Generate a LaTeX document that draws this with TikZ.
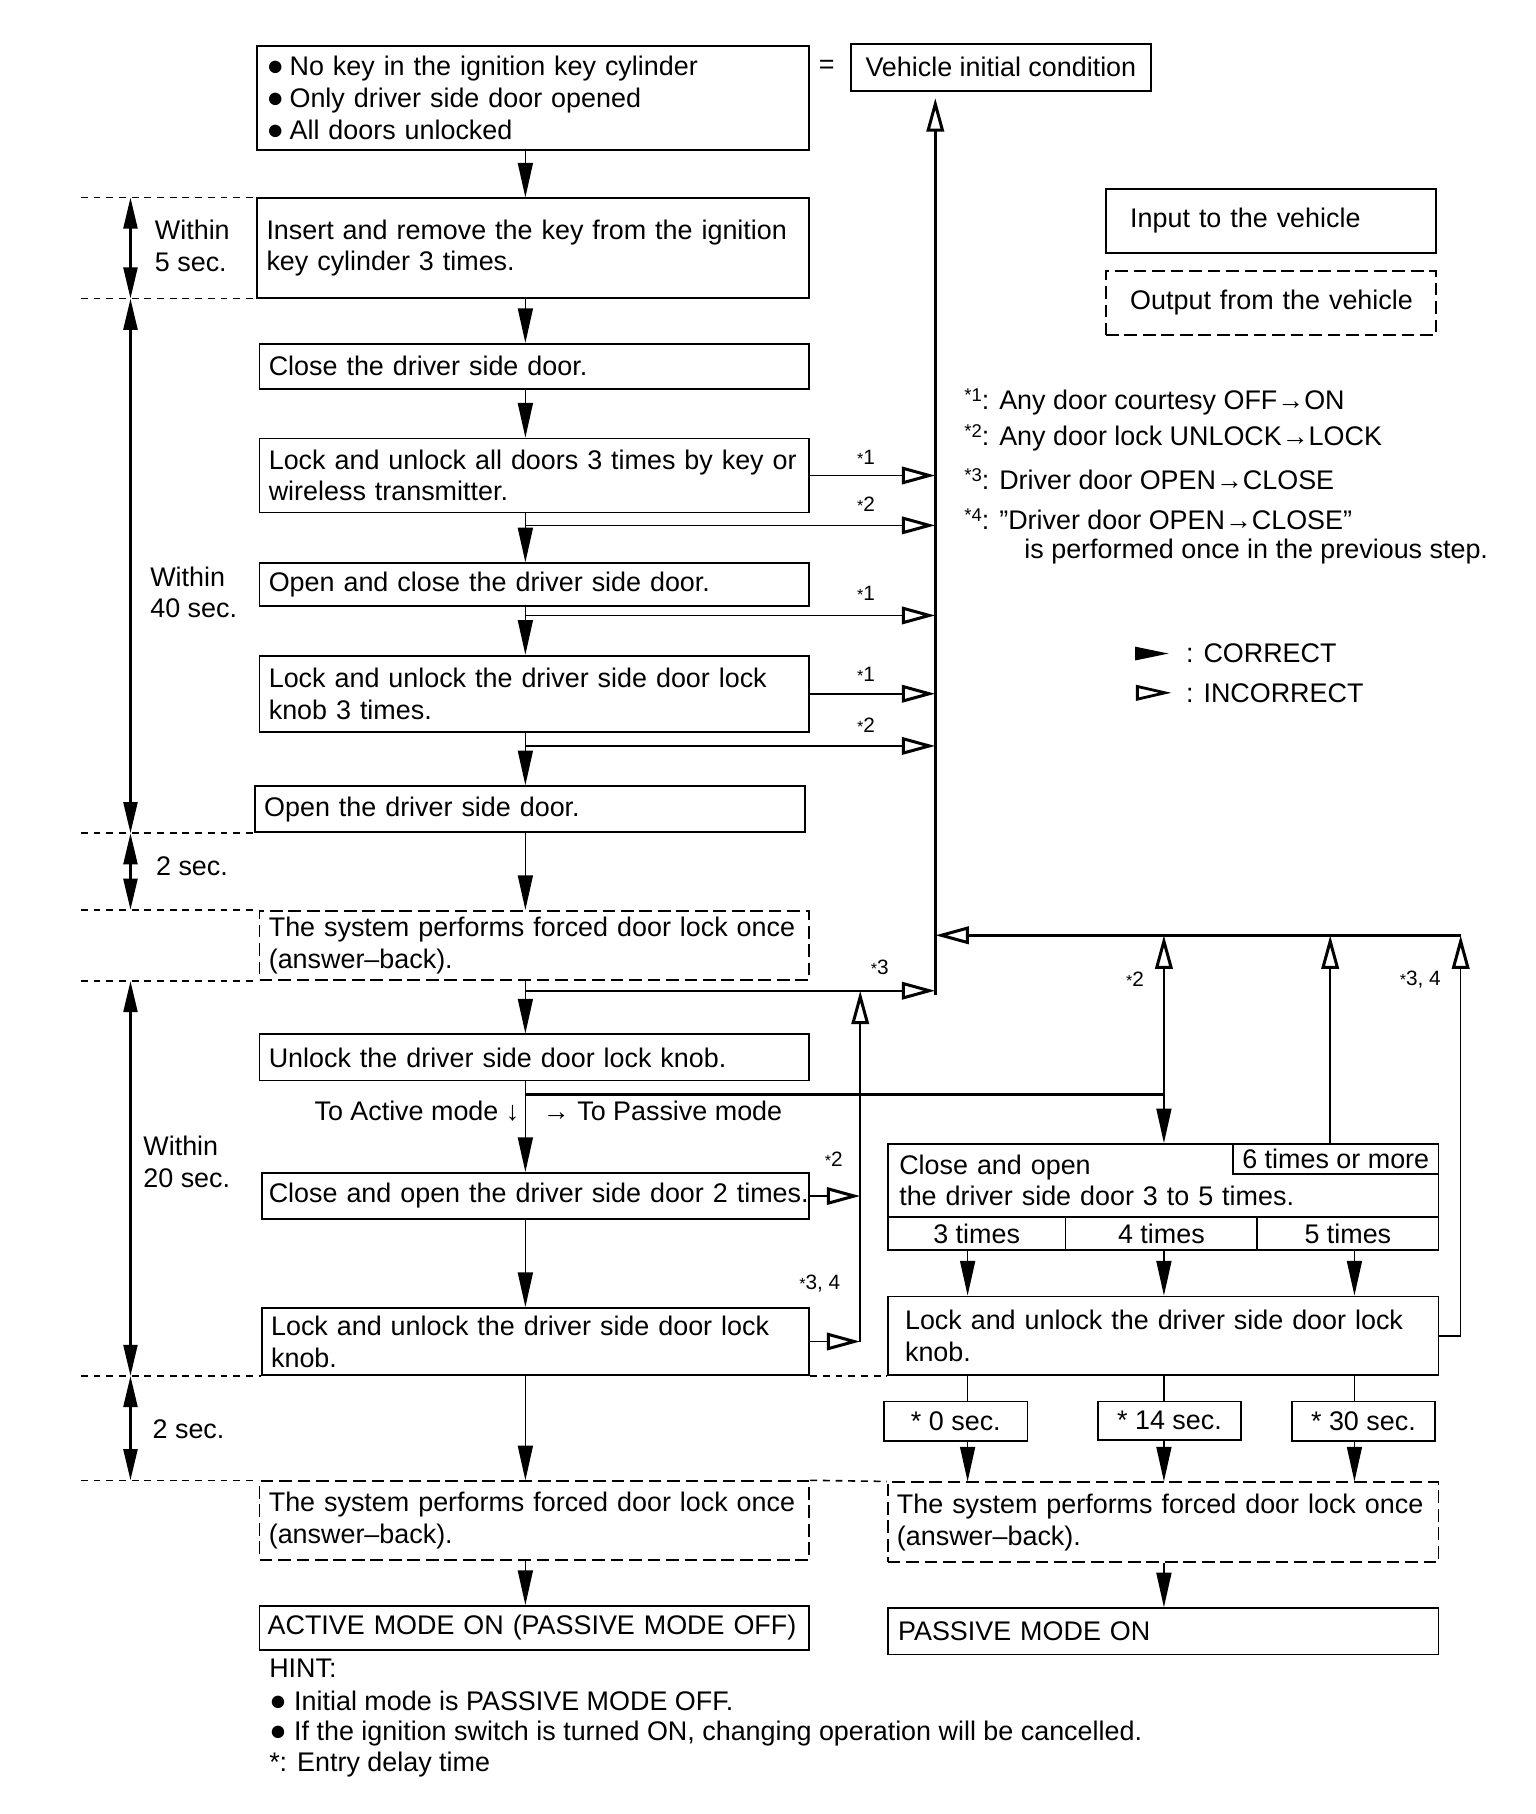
\documentclass[tikz,border=0pt]{standalone}
\usepackage{fontspec}
\setmainfont{Liberation Sans}
\usetikzlibrary{arrows.meta}
\newcommand\supst[1]{\raisebox{7pt}{\fontsize{16}{16}\selectfont *#1}}
\newcommand\lbl[1]{{\fontsize{14}{14}\selectfont *}#1}
\newcommand\bigbul{{\fontsize{25}{25}\selectfont ●}}
\newcommand\bul{\makebox[20pt][l]{\bigbul}}
\begin{document}
\begin{tikzpicture}[x=1pt,y=-1pt, font=\fontsize{23.3}{27.5}\selectfont,
  box/.style={draw, line width=1.6pt, anchor=north west, inner xsep=8pt, inner ysep=0pt, align=left},
  dbox/.style={box, dash pattern=on 11pt off 5pt},
  cbox/.style={box, align=center, inner xsep=0pt},
  arr/.style={line width=1.4pt, -{Triangle[length=30pt,width=13pt]}},
  oarr/.style={line width=1.4pt, -{Triangle[open,length=29pt,width=15pt,line width=2.6pt]}},
  darr/.style={line width=2.4pt, {Triangle[length=27pt,width=12pt]}-{Triangle[length=27pt,width=12pt]}},
  dots/.style={line width=1.4pt, dash pattern=on 6pt off 5pt},
  lab/.style={font=\fontsize{18}{18}\selectfont, inner sep=0pt},
  txt/.style={inner sep=0pt, anchor=west, align=left},
  plain/.style={line width=1.4pt},
]
\useasboundingbox (0,0) rectangle (1330,1571);

% reference coordinates
\coordinate (colA) at (455,0);
\coordinate (vl) at (810,0);
\coordinate (vm) at (745,0);
\coordinate (tl) at (113,0);
\coordinate (dl) at (70,0);
\coordinate (hl) at (0,810);
\coordinate (k1) at (838,0);
\coordinate (k2) at (1008,0);
\coordinate (k3) at (1173,0);
\coordinate (k4) at (1152,0);
\coordinate (kq) at (1265,0);
\coordinate (vtop) at (810,85);
\coordinate (vbot) at (810,862);
\coordinate (j1) at (455,455);
\coordinate (j2) at (455,533);
\coordinate (j3) at (455,646);
\coordinate (j4) at (455,858);
\coordinate (j5) at (455,948);

% left column boxes
\node[box, minimum width=478pt, minimum height=90pt, text width=462pt] (n1) at (222,39)
  {\mbox{\bul No key in the ignition key cylinder}\\\mbox{\bul Only driver side door opened}\\\mbox{\bul All doors unlocked}};
\node (eq) at (716,58) {=};
\node[cbox, minimum width=260pt, minimum height=41pt] (v0) at (736,37) {Vehicle initial condition};
\node[box, minimum width=478pt, minimum height=86pt, text width=462pt] (n2) at (222,171)
  {\mbox{Insert and remove the key from the ignition}\\\mbox{key cylinder 3 times.}};
\node[box, minimum width=476pt, minimum height=39pt, text width=460pt] (n3) at (224,297)
  {\mbox{Close the driver side door.}};
\node[box, minimum width=476pt, minimum height=64pt, text width=460pt] (n4) at (224,379)
  {\makebox[460pt][s]{Lock and unlock all doors 3 times by key or}\\\mbox{wireless transmitter.}};
\node[box, minimum width=476pt, minimum height=37pt, text width=460pt] (n5) at (224,487)
  {\mbox{Open and close the driver side door.}};
\node[box, minimum width=476pt, minimum height=66pt, text width=460pt] (n6) at (224,567)
  {\makebox[460pt][s]{Lock and unlock the driver side door lock}\\\mbox{knob 3 times.}};
\node[box, minimum width=476pt, minimum height=40pt, text width=460pt] (n7) at (220,680)
  {\mbox{Open the driver side door.}};
\node[dbox, minimum width=476pt, minimum height=60pt, text width=460pt] (n8) at (224,788)
  {\mbox{The system performs forced door lock once}\\\mbox{(answer–back).}};
\node[box, minimum width=476pt, minimum height=40pt, text width=460pt] (n9) at (224,895)
  {\mbox{Unlock the driver side door lock knob.}};
\node[box, inner xsep=6pt, minimum width=474pt, minimum height=40pt, text width=462pt] (n10) at (226,1015)
  {\mbox{Close and open the driver side door 2 times.}};
\node[box, minimum width=474pt, minimum height=58pt, text width=458pt] (n11) at (226,1132)
  {\makebox[462pt][s]{Lock and unlock the driver side door lock}\\\mbox{knob.}};
\node[dbox, minimum width=476pt, minimum height=68pt, text width=460pt] (n12) at (224,1282)
  {\mbox{The system performs forced door lock once}\\\mbox{(answer–back).}};
\node[box, inner xsep=7pt, minimum width=476pt, minimum height=38pt, text width=462pt] (n13) at (224,1390)
  {\mbox{ACTIVE MODE ON (PASSIVE MODE OFF)}};

% hint
\node[txt] (h1) at (233,1445) {HINT:};
\node[txt] (h2) at (233,1473) {\bigbul\ Initial mode is PASSIVE MODE OFF.};
\node[txt] (h3) at (233,1501) {\bigbul\ If the ignition switch is turned ON, changing operation will be cancelled.};
\node[txt] (h4) at (233,1528) {*: Entry delay time};

% right legend
\node[box, inner xsep=21pt, minimum width=286pt, minimum height=55pt, text width=244pt] (in1) at (957,163) {\mbox{Input to the vehicle}};
\node[dbox, inner xsep=21pt, minimum width=286pt, minimum height=55pt, text width=244pt] (out1) at (957,234) {\mbox{Output from the vehicle}};
\node[txt] (no1) at (835,348) {\supst{1}: Any door courtesy OFF→ON};
\node[txt] (no2) at (835,379) {\supst{2}: Any door lock UNLOCK→LOCK};
\node[txt] (no3) at (835,415) {\supst{3}: Driver door OPEN→CLOSE};
\node[txt] (no4) at (835,450) {\supst{4}: "Driver door OPEN→CLOSE”};
\node[txt] (no5) at (887,478) {is performed once in the previous step.};
\fill (983,560) -- (1012,566) -- (983,572) -- cycle;
\node[txt] (lg1) at (1027,566) {: CORRECT};
\draw[line width=2.4pt, line join=miter] (985,594.5) -- (1009,600) -- (985,605.5) -- cycle;
\node[txt] (lg2) at (1027,600) {: INCORRECT};

% right column boxes
\node[box, inner xsep=10pt, minimum width=477pt, minimum height=63pt, text width=457pt] (r1) at (768,990)
  {\mbox{Close and open}\\\mbox{the driver side door 3 to 5 times.}};
\node[cbox, minimum width=178pt, minimum height=26pt] (r1b) at (1067,990) {6 times or more};
\node[cbox, minimum width=154pt, minimum height=29pt] (c1) at (768,1053) {3 times};
\node[cbox, minimum width=166pt, minimum height=29pt] (c2) at (922,1053) {4 times};
\node[cbox, minimum width=157pt, minimum height=29pt] (c3) at (1088,1053) {5 times};
\node[box, inner xsep=15pt, minimum width=477pt, minimum height=68pt, text width=447pt] (r3) at (768,1122)
  {\makebox[445pt][s]{Lock and unlock the driver side door lock}\\\mbox{knob.}};
\node[cbox, minimum width=124pt, minimum height=34pt] (s1) at (765,1213) {* 0 sec.};
\node[cbox, minimum width=124pt, minimum height=33pt] (s2) at (950,1213) {* 14 sec.};
\node[cbox, minimum width=124pt, minimum height=34pt] (s3) at (1118,1213) {* 30 sec.};
\node[dbox, minimum width=477pt, minimum height=69pt, text width=461pt] (r4) at (768,1283)
  {\mbox{The system performs forced door lock once}\\\mbox{(answer–back).}};
\node[box, inner xsep=9pt, minimum width=477pt, minimum height=40pt, text width=459pt] (r5) at (768,1392)
  {\mbox{PASSIVE MODE ON}};

% side texts
\node[txt] (w1) at (134,213) {Within\\5 sec.};
\node[txt] (w2) at (130,513) {Within\\40 sec.};
\node[txt] (w3) at (135,750) {2 sec.};
\node[txt] (w4) at (124,1006) {Within\\20 sec.};
\node[txt] (w5) at (132,1238) {2 sec.};
\node[inner sep=0pt, anchor=east] (ta) at (450,962) {To Active mode ↓};
\node[txt] (tp) at (470,962) {→ To Passive mode};

% labels
\node[lab] (l1) at (750,396) {\lbl{1}};
\node[lab] (l2) at (750,437) {\lbl{2}};
\node[lab] (l3) at (750,514) {\lbl{1}};
\node[lab] (l4) at (750,584) {\lbl{1}};
\node[lab] (l5) at (750,628) {\lbl{2}};
\node[lab] (l6) at (762,838) {\lbl{3}};
\node[lab] (l7) at (722,1004) {\lbl{2}};
\node[lab] (l8) at (710,1112) {\lbl{3, 4}};
\node[lab] (l9) at (983,848) {\lbl{2}};
\node[lab] (l10) at (1230,848) {\lbl{3, 4}};

% dotted time lines
\draw[dots] (dl |- n2.north) -- (n2.north west);
\draw[dots] (dl |- n2.south) -- (n2.south west);
\draw[dots] (dl |- n7.south) -- (n7.south west);
\draw[dots] (dl |- n8.north) -- (n8.north west);
\draw[dots] (dl |- n8.south) -- (n8.south west);
\draw[dots] (dl |- n11.south) -- (n11.south west);
\draw[dots] (n11.south east) -- (r3.south west);
\draw[dots] (dl |- n12.north) -- (n12.north west);
\draw[dots] (n12.north east) -- (r4.north west);

% time arrows
\draw[darr] (tl |- n2.north) -- (tl |- n2.south);
\draw[darr] (tl |- n2.south) -- (tl |- n7.south);
\draw[darr] (tl |- n7.south) -- (tl |- n8.north);
\draw[darr] (tl |- n8.south) -- (tl |- n11.south);
\draw[darr] (tl |- n11.south) -- (tl |- n12.north);

% main flow
\draw[arr] (n1.south -| colA) -- (n2.north -| colA);
\draw[arr] (n2.south -| colA) -- (n3.north -| colA);
\draw[arr] (n3.south -| colA) -- (n4.north -| colA);
\draw[arr] (n4.south -| colA) -- (n5.north -| colA);
\draw[arr] (n5.south -| colA) -- (n6.north -| colA);
\draw[arr] (n6.south -| colA) -- (n7.north -| colA);
\draw[arr] (n7.south -| colA) -- (n8.north -| colA);
\draw[arr] (n8.south -| colA) -- (n9.north -| colA);
\draw[arr] (n9.south -| colA) -- (n10.north -| colA);
\draw[arr] (n10.south -| colA) -- (n11.north -| colA);
\draw[arr] (n11.south -| colA) -- (n12.north -| colA);
\draw[arr] (n12.south -| colA) -- (n13.north -| colA);

% incorrect branches to vehicle initial condition
\draw[oarr, line width=2.6pt] (vbot) -- (vtop);
\draw[oarr] (n4.east) -- (n4.east -| vl);
\draw[oarr] (j1) -- (j1 -| vl);
\draw[oarr] (j2) -- (j2 -| vl);
\draw[oarr] (n6.east) -- (n6.east -| vl);
\draw[oarr] (j3) -- (j3 -| vl);
\draw[oarr] (j4) -- (j4 -| vl);
\draw[oarr] (n10.east) -- (n10.east -| vm);
\draw[oarr] (n11.east) -- (n11.east -| vm);
\draw[oarr] (n11.east -| vm) -- (vm |- j4);

% passive branch
\draw[line width=2.6pt] (j5) -- (j5 -| k2);
\draw[arr] (j5 -| k2) -- (r1.north -| k2);
\draw[oarr] (j5 -| k2) -- (k2 |- hl);
\draw[oarr] (r1b.north -| k4) -- (k4 |- hl);
\draw[plain] (r3.east) -- (r3.east -| kq);
\draw[oarr] (r3.east -| kq) -- (kq |- hl);
\draw[oarr, line width=2.6pt] (kq |- hl) -- (vl |- hl);

\draw[arr] (c1.south -| k1) -- (r3.north -| k1);
\draw[arr] (c2.south -| k2) -- (r3.north -| k2);
\draw[arr] (c3.south -| k3) -- (r3.north -| k3);
\draw[plain] (r3.south -| k1) -- (s1.north -| k1);
\draw[plain] (r3.south -| k2) -- (s2.north -| k2);
\draw[plain] (r3.south -| k3) -- (s3.north -| k3);
\draw[arr] (s1.south -| k1) -- (r4.north -| k1);
\draw[arr] (s2.south -| k2) -- (r4.north -| k2);
\draw[arr] (s3.south -| k3) -- (r4.north -| k3);
\draw[arr] (r4.south -| k2) -- (r5.north -| k2);
\end{tikzpicture}
\end{document}
